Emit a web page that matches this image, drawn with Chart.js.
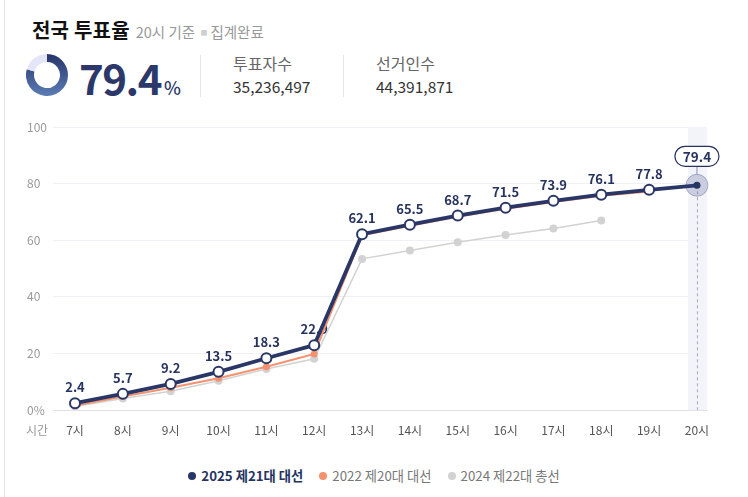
<!DOCTYPE html>
<html>
<head>
<meta charset="utf-8">
<script src="https://cdn.jsdelivr.net/npm/chart.js@4.4.1/dist/chart.umd.min.js"></script>
<style>
    html, body { margin: 0; padding: 0; background: #fff; }
    body { width: 748px; height: 497px; position: relative; overflow: hidden;
           font-family: 'Noto Sans CJK KR', 'Noto Sans', sans-serif; }
    .card-edge { position: absolute; left: 4px; top: 0; width: 1px; height: 497px; background: #e6e6e6; }
    .title { position: absolute; left: 32px; top: 15px; white-space: nowrap; }
    .title b { font-size: 20px; font-weight: 700; color: #111; letter-spacing: 0.2px; }
    .title span { font-size: 14.5px; color: #999; margin-left: 6px; }
    .title .dot { color: #cfcfcf; font-size: 7px; margin: 0 3px 0 2px; vertical-align: 3px; }
    #donut { position: absolute; left: 26px; top: 54px; }
    .rate { position: absolute; left: 79px; top: 46px; color: #2b3869; white-space: nowrap; }
    .rate .num { font-size: 42px; font-weight: 600; letter-spacing: -1.5px; }
    .rate .pct { font-size: 18px; font-weight: 500; margin-left: 3px; }
    .sep { position: absolute; top: 55px; width: 1px; height: 42px; background: #e6e6e6; }
    .stat { position: absolute; top: 51px; white-space: nowrap; }
    .stat .k { font-size: 16px; color: #666; line-height: 24px; }
    .stat .v { font-size: 15.5px; color: #333; line-height: 22px; }
    #chartWrap { position: absolute; left: 0; top: 110px; width: 748px; height: 340px; }
    .legend { position: absolute; left: 0; width: 748px; top: 466px; text-align: center; font-size: 13.3px; white-space: nowrap; }
    .legend .item { display: inline-block; margin: 0 8px; color: #777; }
    .legend .item.main { color: #27335f; font-weight: 700; }
    .legend i { display: inline-block; width: 8px; height: 8px; border-radius: 50%; margin-right: 5px; vertical-align: 1px; }
</style>
</head>
<body>
<div class="card-edge"></div>
<div class="title"><b>전국 투표율</b><span>20시 기준 <span class="dot">■</span>집계완료</span></div>
<canvas id="donut" width="42" height="42"></canvas>
<div class="rate"><span class="num" id="rateNum"></span><span class="pct">%</span></div>
<div class="sep" style="left:200px"></div>
<div class="stat" style="left:233px"><div class="k">투표자수</div><div class="v" id="voters"></div></div>
<div class="sep" style="left:343px"></div>
<div class="stat" style="left:376px"><div class="k">선거인수</div><div class="v" id="electors"></div></div>
<div id="chartWrap"><canvas id="turnoutChart"></canvas></div>
<div class="legend" id="legend"></div>

<script>
// hourly turnout (%)
var hours = ['7시', '8시', '9시', '10시', '11시', '12시', '13시', '14시', '15시', '16시', '17시', '18시', '19시', '20시'];
var turnout2025 = [2.4, 5.7, 9.2, 13.5, 18.3, 22.9, 62.1, 65.5, 68.7, 71.5, 73.9, 76.1, 77.8, 79.4];
var turnout2022 = [1.6, 4.8, 7.9, 11.2, 15.3, 19.8, 61.7, 65.1, 68.3, 71.1, 73.5, 75.7, 77.2];
var turnout2024 = [1.2, 4.1, 6.6, 10.3, 14.5, 18.1, 53.4, 56.4, 59.3, 61.8, 64.1, 67.0];
var seriesNames = ['2025 제21대 대선', '2022 제20대 대선', '2024 제22대 총선'];
var seriesColors = ['#2a3766', '#f4916e', '#d2d2d2'];
var yTicks = [0, 20, 40, 60, 80, 100];
var finalRate = 79.4;
var voterCount = 35236497;
var electorCount = 44391871;

document.getElementById('rateNum').textContent = finalRate.toFixed(1);
document.getElementById('voters').textContent = voterCount.toLocaleString('en-US');
document.getElementById('electors').textContent = electorCount.toLocaleString('en-US');

// legend
var legendHtml = '';
seriesNames.forEach(function(name, i) {
    legendHtml += '<span class="item' + (i === 0 ? ' main' : '') + '"><i style="background:' + seriesColors[i] + '"></i>' + name + '</span>';
});
document.getElementById('legend').innerHTML = legendHtml;

// small donut
new Chart(document.getElementById('donut'), {
    type: 'doughnut',
    data: {
        datasets: [{
            data: [finalRate, 100 - finalRate],
            backgroundColor: function(context) {
                if (context.dataIndex === 1) return '#e4e6f7';
                var area = context.chart.chartArea;
                if (!area) return '#3b5088';
                var g = context.chart.ctx.createLinearGradient(0, area.top, 0, area.bottom);
                g.addColorStop(0, '#26346a');
                g.addColorStop(1, '#5d7cb5');
                return g;
            },
            borderWidth: 0
        }]
    },
    options: {
        responsive: false,
        animation: false,
        cutout: '62%',
        plugins: { legend: { display: false }, tooltip: { enabled: false } }
    }
});

var lastIdx = turnout2025.length - 1;

// value labels, highlight band and final callout
var overlayPlugin = {
    id: 'overlay',
    beforeDatasetsDraw: function(chart) {
        var ctx = chart.ctx, area = chart.chartArea;
        var x = chart.scales.x, y = chart.scales.y;
        var px = x.getPixelForValue(lastIdx);
        var py = y.getPixelForValue(turnout2025[lastIdx]);
        ctx.save();
        ctx.fillStyle = '#f3f3fa';
        ctx.fillRect(px - 9, area.top, 19, area.bottom - area.top);
        ctx.setLineDash([3, 3]);
        ctx.strokeStyle = '#a8a5cc';
        ctx.lineWidth = 1;
        ctx.beginPath();
        ctx.moveTo(px + 0.5, py);
        ctx.lineTo(px + 0.5, area.bottom);
        ctx.stroke();
        ctx.setLineDash([]);

        ctx.font = "bold 13px 'Noto Sans CJK KR', 'Noto Sans', sans-serif";
        ctx.fillStyle = '#27335f';
        ctx.textAlign = 'center';
        ctx.textBaseline = 'middle';
        for (var i = 0; i < lastIdx; i++) {
            ctx.fillText(turnout2025[i].toFixed(1), x.getPixelForValue(i), y.getPixelForValue(turnout2025[i]) - 16);
        }
        ctx.restore();
    },
    afterDatasetsDraw: function(chart) {
        var ctx = chart.ctx;
        var x = chart.scales.x, y = chart.scales.y;
        var px = x.getPixelForValue(lastIdx);
        var py = y.getPixelForValue(turnout2025[lastIdx]);
        ctx.save();
        // halo
        ctx.beginPath();
        ctx.arc(px, py, 11, 0, Math.PI * 2);
        ctx.fillStyle = 'rgba(60, 70, 130, 0.22)';
        ctx.fill();
        ctx.strokeStyle = 'rgba(60, 70, 130, 0.35)';
        ctx.lineWidth = 1;
        ctx.stroke();
        ctx.beginPath();
        ctx.arc(px, py, 3.5, 0, Math.PI * 2);
        ctx.fillStyle = '#27335f';
        ctx.fill();
        // stem
        ctx.strokeStyle = '#8a90b0';
        ctx.beginPath();
        ctx.moveTo(px, py - 11);
        ctx.lineTo(px, py - 19);
        ctx.stroke();
        // callout box
        var bw = 44, bh = 20, bx = px - bw / 2, by = py - 39;
        ctx.beginPath();
        ctx.roundRect(bx, by, bw, bh, 10);
        ctx.fillStyle = '#fff';
        ctx.fill();
        ctx.strokeStyle = '#27335f';
        ctx.lineWidth = 1.2;
        ctx.stroke();
        ctx.font = "600 13.5px 'Noto Sans CJK KR', 'Noto Sans', sans-serif";
        ctx.fillStyle = '#27335f';
        ctx.textAlign = 'center';
        ctx.textBaseline = 'middle';
        ctx.fillText(turnout2025[lastIdx].toFixed(1), px, by + bh / 2 + 0.5);
        // axis caption
        ctx.font = "12px 'Noto Sans CJK KR', 'Noto Sans', sans-serif";
        ctx.fillStyle = '#999';
        ctx.textAlign = 'left';
        ctx.fillText('시간', 26, chart.chartArea.bottom + 20);
        ctx.restore();
    }
};

function toPoints(values) {
    return values.map(function(v, i) { return { x: i, y: v }; });
}

var ctx = document.getElementById('turnoutChart').getContext('2d');
var turnoutChart = new Chart(ctx, {
    type: 'line',
    data: {
        datasets: [{
            label: seriesNames[0],
            data: toPoints(turnout2025),
            borderColor: seriesColors[0],
            borderWidth: 3.8,
            pointRadius: function(c) { return c.dataIndex === lastIdx ? 0 : 5; },
            pointBackgroundColor: '#fff',
            pointBorderColor: seriesColors[0],
            pointBorderWidth: 2,
            tension: 0
        }, {
            label: seriesNames[1],
            data: toPoints(turnout2022),
            borderColor: seriesColors[1],
            borderWidth: 2,
            pointRadius: 3.5,
            pointBackgroundColor: seriesColors[1],
            pointBorderWidth: 0,
            tension: 0
        }, {
            label: seriesNames[2],
            data: toPoints(turnout2024),
            borderColor: seriesColors[2],
            borderWidth: 1.5,
            pointRadius: 4,
            pointBackgroundColor: seriesColors[2],
            pointBorderWidth: 0,
            tension: 0
        }]
    },
    options: {
        responsive: true,
        maintainAspectRatio: false,
        animation: false,
        layout: { padding: { left: 27, right: 41, top: 17, bottom: 0 } },
        scales: {
            x: {
                type: 'linear',
                min: -0.46,
                max: 13.21,
                afterBuildTicks: function(scale) {
                    scale.ticks = hours.map(function(h, i) { return { value: i }; });
                },
                afterFit: function(scale) { scale.height = 40; },
                grid: { display: false },
                border: { color: '#e2e2e2' },
                ticks: {
                    padding: 5,
                    color: '#555',
                    font: { size: 12, family: "'Noto Sans CJK KR', 'Noto Sans', sans-serif" },
                    callback: function(value) { return hours[value]; }
                }
            },
            y: {
                min: 0,
                max: 100,
                afterBuildTicks: function(scale) {
                    scale.ticks = yTicks.map(function(v) { return { value: v }; });
                },
                afterFit: function(scale) { scale.width = 26; },
                grid: { color: '#eff0f4', drawTicks: false },
                border: { display: false },
                ticks: {
                    crossAlign: 'far',
                    color: '#999',
                    font: { size: 12, family: "'Noto Sans CJK KR', 'Noto Sans', sans-serif" },
                    callback: function(value) { return value === 0 ? '0%' : value; }
                }
            }
        },
        plugins: {
            legend: { display: false },
            tooltip: { enabled: false }
        }
    },
    plugins: [overlayPlugin]
});
</script>
</body>
</html>
